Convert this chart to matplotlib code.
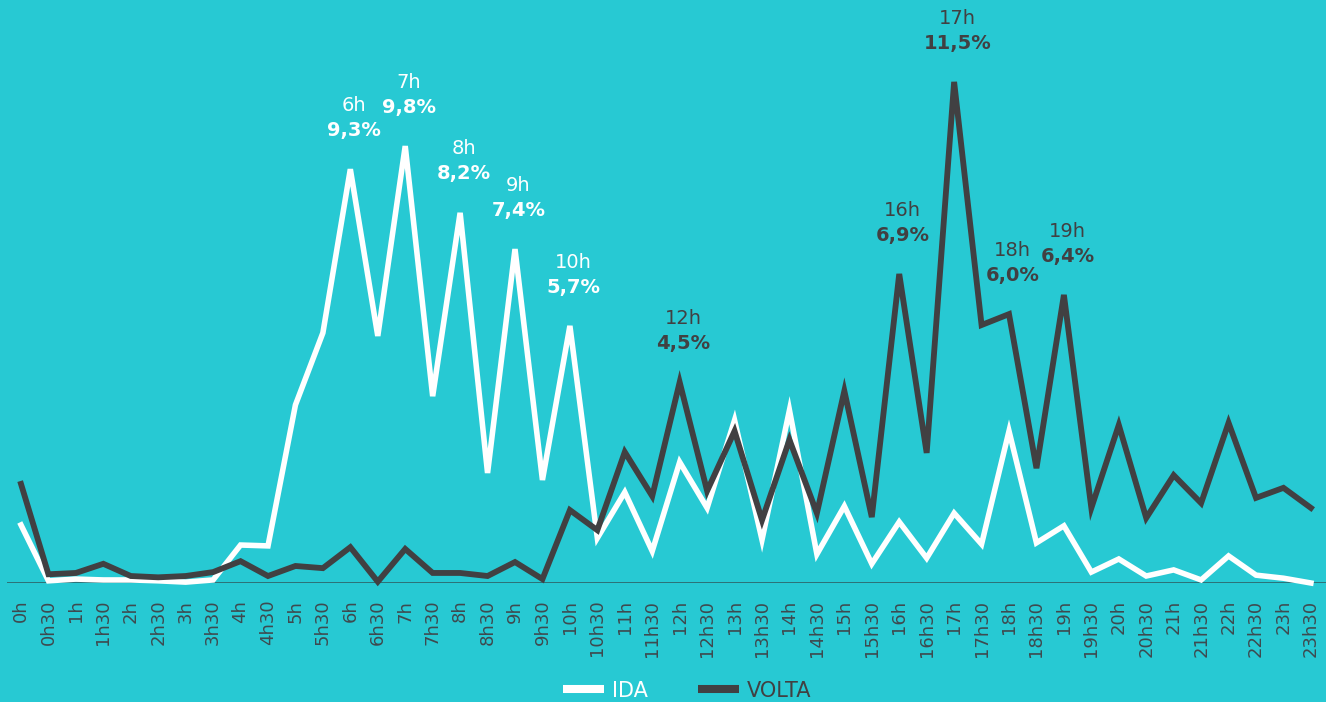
import matplotlib
matplotlib.use('Agg')
import matplotlib.pyplot as plt
from matplotlib.lines import Line2D

# horarios de meia em meia hora
hours = ['0h', '0h30', '1h', '1h30', '2h', '2h30', '3h', '3h30', '4h', '4h30',
         '5h', '5h30', '6h', '6h30', '7h', '7h30', '8h', '8h30', '9h', '9h30',
         '10h', '10h30', '11h', '11h30', '12h', '12h30', '13h', '13h30', '14h', '14h30',
         '15h', '15h30', '16h', '16h30', '17h', '17h30', '18h', '18h30', '19h', '19h30',
         '20h', '20h30', '21h', '21h30', '22h', '22h30', '23h', '23h30']

# % de viagens
ida = [1.33, 0.05, 0.09, 0.07, 0.07, 0.05, 0.02, 0.07, 0.87, 0.85,
       4.08, 5.73, 9.48, 5.66, 10.01, 4.28, 8.48, 2.52, 7.65, 2.36,
       5.89, 1.03, 2.08, 0.73, 2.77, 1.72, 3.73, 0.99, 3.96, 0.66,
       1.76, 0.44, 1.40, 0.57, 1.60, 0.89, 3.48, 0.92, 1.31, 0.25,
       0.55, 0.16, 0.30, 0.07, 0.62, 0.18, 0.11, 0.0]
volta = [2.27, 0.20, 0.23, 0.44, 0.16, 0.13, 0.16, 0.25, 0.50, 0.16,
         0.39, 0.34, 0.82, 0.03, 0.78, 0.23, 0.23, 0.16, 0.48, 0.09,
         1.67, 1.21, 3.00, 1.99, 4.60, 2.11, 3.48, 1.44, 3.28, 1.60,
         4.40, 1.51, 7.08, 2.98, 11.48, 5.91, 6.16, 2.63, 6.60, 1.72,
         3.62, 1.49, 2.47, 1.83, 3.67, 1.95, 2.18, 1.72]

# picos anotados
ida_peaks = ['6h', '7h', '8h', '9h', '10h']
ida_peak_pct = [9.3, 9.8, 8.2, 7.4, 5.7]
volta_peaks = ['12h', '16h', '17h', '18h', '19h']
volta_peak_pct = [4.5, 6.9, 11.5, 6.0, 6.4]

BG = '#27c9d3'
WHITE = '#ffffff'
DARK = '#414042'
TICK = '#3e4a4f'

plt.rcParams['font.family'] = ['DejaVu Sans']

fig = plt.figure(figsize=(13.26, 7.02), dpi=100, facecolor=BG)
ax = fig.add_axes([7/1326, 119/702, 1319/1326, 583/702])
ax.set_facecolor(BG)

x = list(range(len(hours)))
ax.axhline(0, color='#2d6a70', lw=1.3, zorder=1)
ax.plot(x, ida, color=WHITE, lw=4.0, solid_joinstyle='miter', zorder=2, clip_on=False)
ax.plot(x, volta, color=DARK, lw=4.2, solid_joinstyle='miter', zorder=3, clip_on=False)

ax.set_xlim(-0.51, 47.55)
ax.set_ylim(0, 583/43.65)

ax.set_xticks(x)
ax.set_xticklabels(hours, rotation=90, fontsize=13, color=TICK)
ax.tick_params(axis='x', length=0, pad=12)
ax.set_yticks([])
for s in ax.spines.values():
    s.set_visible(False)


def fmt(v):
    return ('%.1f' % v).replace('.', ',') + '%'


def label_peaks(names, pcts, series, color):
    for name, p in zip(names, pcts):
        i = hours.index(name)
        ax.annotate(fmt(p), (i, series[i]), xytext=(2.5, 28), textcoords='offset points',
                    ha='center', va='center', fontsize=14, fontweight='bold', color=color,
                    annotation_clip=False)
        ax.annotate(name, (i, series[i]), xytext=(2.5, 46), textcoords='offset points',
                    ha='center', va='center', fontsize=14, color=color,
                    annotation_clip=False)


label_peaks(ida_peaks, ida_peak_pct, ida, WHITE)
label_peaks(volta_peaks, volta_peak_pct, volta, DARK)

handles = [Line2D([], [], color=WHITE, lw=5.8, solid_capstyle='butt'),
           Line2D([], [], color=DARK, lw=5.8, solid_capstyle='butt')]
fig.legend(handles, ['IDA', 'VOLTA'], loc='center', bbox_to_anchor=(0.5185, 0.016),
           ncol=2, frameon=False, fontsize=15, handlelength=1.95, handletextpad=0.4,
           columnspacing=2.4, borderpad=0, labelcolor=[WHITE, DARK])

fig.savefig('out.png', dpi=100, facecolor=BG)
